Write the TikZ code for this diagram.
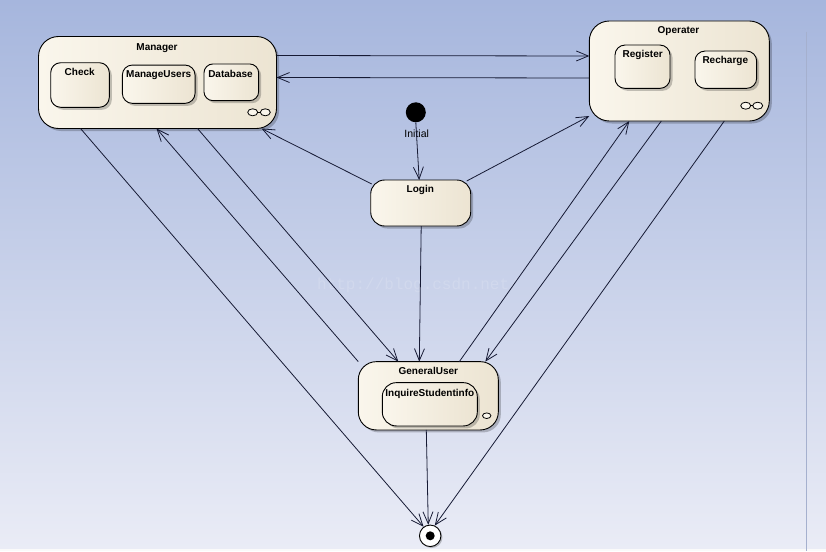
\documentclass[tikz,border=0pt]{standalone}
\usepackage{fontspec}
\setmainfont{Liberation Sans}
\newfontfamily\wmfont{Liberation Mono}
\usetikzlibrary{arrows.meta,shadows}
\definecolor{bgtop}{RGB}{166,182,221}
\definecolor{bgbot}{RGB}{234,236,246}
\definecolor{boxL}{RGB}{250,246,236}
\definecolor{boxR}{RGB}{236,228,210}
\definecolor{linec}{RGB}{22,26,52}
\definecolor{sideline}{RGB}{165,176,206}
\tikzset{
  statebox/.style={draw=black, line width=0.9pt, rounded corners=#1, left color=boxL, right color=boxR,
    drop shadow={shadow xshift=2.5pt, shadow yshift=-2.5pt, fill=black, opacity=0.22},
    inner sep=0pt, outer sep=0pt},
  ttl/.style={font=\fontsize{10}{12}\selectfont\bfseries, anchor=base, inner sep=0pt},
  lbl/.style={font=\fontsize{10.5}{12}\selectfont, anchor=base, inner sep=0pt},
  arr/.style={draw=linec, line width=0.8pt, -{Straight Barb[length=12pt,width=10pt,line width=0.8pt]}},
  plain/.style={draw=linec, line width=0.8pt},
  infsym/.style={draw=black, line width=0.8pt, fill=boxL},
}
\begin{document}
\begin{tikzpicture}[x=1pt,y=-1pt]
\useasboundingbox (0,0) rectangle (826,551);
% background
\shade[top color=bgtop, bottom color=bgbot] (0,0) rectangle (826,549);
\fill[white!96!gray] (0,549) rectangle (826,551);
\draw[sideline, line width=0.5pt] (806,32) -- (806,551);
\node[font=\wmfont\fontsize{16}{16}\selectfont, text=white, opacity=0.15, inner sep=0pt] (wm) at (418,285) {http://blog.csdn.net/};

% Manager
\node[statebox=20pt, minimum width=238pt, minimum height=92pt] (manager) at (157.5,82.5) {};
\node[ttl] (managerT) at (157,50.7) {Manager};
\node[statebox=10pt, minimum width=58.6pt, minimum height=44.6pt] (check) at (80,85) {};
\node[ttl] (checkT) at (79.7,75.3) {Check};
\node[statebox=10pt, minimum width=72.7pt, minimum height=38.3pt] (mngusers) at (158.7,84.2) {};
\node[ttl] (mngusersT) at (158.7,77.3) {ManageUsers};
\node[statebox=9pt, minimum width=54.7pt, minimum height=36.7pt] (database) at (231.3,82.3) {};
\node[ttl] (databaseT) at (230.5,77) {Database};
\draw[infsym] (252.7,112.3) ellipse [x radius=5pt, y radius=3.5pt];
\draw[infsym] (265.3,112.3) ellipse [x radius=5pt, y radius=3.5pt];
\draw[plain, draw=black] (257.7,112.3) -- (260.3,112.3);

% Operater
\node[statebox=20pt, minimum width=180pt, minimum height=100pt] (operater) at (679.3,71) {};
\node[ttl] (operaterT) at (678.5,33.3) {Operater};
\node[statebox=10pt, minimum width=55pt, minimum height=43.3pt] (register) at (642.5,66.7) {};
\node[ttl] (registerT) at (642.7,58) {Register};
\node[statebox=10pt, minimum width=61.7pt, minimum height=37.3pt] (recharge) at (725.8,69.7) {};
\node[ttl] (rechargeT) at (725.3,63.7) {Recharge};
\draw[infsym] (745.7,105.7) ellipse [x radius=5pt, y radius=3.5pt];
\draw[infsym] (757.7,105.7) ellipse [x radius=5pt, y radius=3.5pt];
\draw[plain, draw=black] (750.7,105.7) -- (752.7,105.7);

% Initial
\node[circle, fill=black, minimum size=20pt, inner sep=0pt] (initial) at (415.8,112.3) {};
\node[lbl] (initialT) at (416.7,137.7) {Initial};

% Login
\node[statebox=14pt, minimum width=100pt, minimum height=46pt] (login) at (420.7,203) {};
\node[ttl] (loginT) at (420.3,192.7) {Login};

% GeneralUser
\node[statebox=18pt, minimum width=140pt, minimum height=68.3pt] (gu) at (428.3,395.8) {};
\node[ttl] (guT) at (428.3,374) {GeneralUser};
\node[statebox=14pt, minimum width=95pt, minimum height=43.3pt] (inquire) at (429.8,404.3) {};
\node[ttl] (inquireT) at (429.8,396) {InquireStudentinfo};
\draw[infsym] (486.7,415.7) ellipse [x radius=4.2pt, y radius=2.8pt];

% Final
\node[circle, draw=black, line width=0.9pt, fill=white, minimum size=21.5pt, inner sep=0pt,
  drop shadow={shadow xshift=1.5pt, shadow yshift=-1.5pt, fill=black, opacity=0.22}] (final) at (430.2,535.8) {};
\node[circle, fill=black, minimum size=9pt, inner sep=0pt] (finaldot) at (430.2,535.8) {};

% connectors
\draw[arr] ([yshift=-19pt]manager.north east) -- ([yshift=-35pt]operater.north west);
\draw[arr] ([yshift=-57pt]operater.north west) -- ([yshift=-41pt]manager.north east);
\draw[arr] (initial.south) -- ([xshift=-1.5pt]login.north);
\draw[arr] ([xshift=1pt,yshift=-4pt]login.north west) -- ([xshift=-15pt]manager.south east);
\draw[arr] ([xshift=-4pt,yshift=-1pt]login.north east) -- ([yshift=5pt]operater.south west);
\draw[arr] ([xshift=0.5pt]login.south) -- ([xshift=-9pt]gu.north);
\draw[arr] ([xshift=159pt]manager.south west) -- ([xshift=40pt]gu.north west);
\draw[arr] ([xshift=0pt]gu.north west) -- ([xshift=118pt]manager.south west);
\draw[arr] ([xshift=101pt]gu.north west) -- ([xshift=40pt]operater.south west);
\draw[arr] ([xshift=72pt]operater.south west) -- ([xshift=127pt]gu.north west);
\draw[arr] ([xshift=42pt]manager.south west) -- (final.126);
\draw[arr] ([xshift=-2pt]gu.south) -- (final.100);
\draw[arr] ([xshift=135pt]operater.south west) -- (final.66);
\end{tikzpicture}
\end{document}
